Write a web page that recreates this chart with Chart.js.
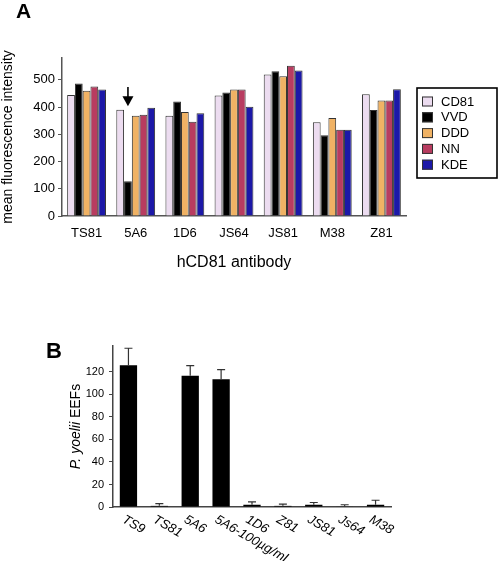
<!DOCTYPE html>
<html>
<head>
<meta charset="utf-8">
<script src="https://cdn.jsdelivr.net/npm/chart.js@4.4.1/dist/chart.umd.min.js"></script>
<style>
  body { margin: 0; background: #fff; }
  canvas { display: block; }
</style>
</head>
<body>
<canvas id="graficoA" width="498" height="280"></canvas>
<canvas id="graficoB" width="498" height="281"></canvas>
<script>
// painel A - intensidade de fluorescência por anticorpo
const anticorposA = ['TS81', '5A6', '1D6', 'JS64', 'JS81', 'M38', 'Z81'];
const serieCD81 = [444, 390, 368, 442, 519, 344, 447];
const serieVVD = [486, 128, 420, 453, 531, 296, 389];
const serieDDD = [460, 368, 382, 464, 513, 360, 424];
const serieNN = [475, 372, 346, 464, 552, 317, 424];
const serieKDE = [464, 397, 377, 401, 534, 317, 465];
const nomesSeries = ['CD81', 'VVD', 'DDD', 'NN', 'KDE'];
const coresSeries = ['#ecdcf0', '#000000', '#f0b264', '#b83c60', '#1c18a8'];
const ticksA = [0, 100, 200, 300, 400, 500];
const setaA = [474, 403]; // seta sobre 5A6 / VVD (valores do eixo y)

// painel B - EEFs de P. yoelii
const anticorposB = ['TS9', 'TS81', '5A6', '5A6-100µg/ml', '1D6', 'Z81', 'JS81', 'Js64', 'M38'];
const eefs = [126, 1, 116.5, 113.5, 2, 1, 2, 0.5, 2];
const erros = [15, 2, 9, 8.5, 2.5, 1.5, 2, 1.5, 4];
const ticksB = [0, 20, 40, 60, 80, 100, 120];

const FONTE = "'Liberation Sans', Arial, sans-serif";
Chart.defaults.font.family = FONTE;
Chart.defaults.color = '#000';

const todasSeries = [serieCD81, serieVVD, serieDDD, serieNN, serieKDE];

const extrasA = {
  id: 'extrasA',
  afterDraw(chart) {
    const c = chart.ctx;
    const y = chart.scales.y;
    c.save();
    // letra do painel
    c.fillStyle = '#000';
    c.font = 'bold 21px ' + FONTE;
    c.textBaseline = 'alphabetic';
    c.fillText('A', 16, 18);

    // seta
    const barra = chart.getDatasetMeta(1).data[1];
    const yTopo = y.getPixelForValue(setaA[0]);
    const yPonta = y.getPixelForValue(setaA[1]);
    c.strokeStyle = '#000';
    c.lineWidth = 1.6;
    c.beginPath();
    c.moveTo(barra.x, yTopo);
    c.lineTo(barra.x, yPonta - 8);
    c.stroke();
    c.beginPath();
    c.moveTo(barra.x - 5.5, yPonta - 10);
    c.lineTo(barra.x + 5.5, yPonta - 10);
    c.lineTo(barra.x, yPonta);
    c.closePath();
    c.fill();

    // legenda com caixa
    c.lineWidth = 1.6;
    c.strokeRect(417, 88, 80, 90);
    chart.data.datasets.forEach((ds, i) => {
      const yy = 101.5 + i * 15.8;
      c.fillStyle = ds.backgroundColor;
      c.fillRect(422, yy - 5, 11, 10);
      c.strokeStyle = '#333';
      c.lineWidth = 1;
      c.strokeRect(422.5, yy - 4.5, 10, 9);
      c.fillStyle = '#000';
      c.font = '13px ' + FONTE;
      c.textBaseline = 'middle';
      c.fillText(ds.label, 441, yy + 0.5);
    });
    c.restore();
  }
};

new Chart(document.getElementById('graficoA'), {
  type: 'bar',
  data: {
    labels: anticorposA,
    datasets: nomesSeries.map((nome, i) => ({
      label: nome,
      data: todasSeries[i],
      backgroundColor: coresSeries[i],
      borderColor: '#333',
      borderWidth: 1,
      barPercentage: 1,
      categoryPercentage: 0.79
    }))
  },
  options: {
    responsive: false,
    animation: false,
    layout: { padding: { top: 58, right: 92, left: 0, bottom: 0 } },
    plugins: { legend: { display: false }, tooltip: { enabled: false } },
    scales: {
      x: {
        grid: { display: false, drawTicks: false },
        border: { color: '#555', width: 1.5 },
        ticks: { font: { size: 13 }, padding: 10 },
        title: { display: true, text: 'hCD81 antibody', font: { size: 16 }, padding: { top: 0, bottom: 8 } },
        afterFit(s) { s.height = 64; }
      },
      y: {
        min: 0,
        max: 580,
        afterBuildTicks(s) { s.ticks = ticksA.map(v => ({ value: v })); },
        grid: { drawOnChartArea: false, tickLength: 4, color: '#555' },
        border: { color: '#555', width: 1.5 },
        ticks: { font: { size: 13 }, padding: 3 },
        title: { display: true, text: 'mean fluorescence intensity', font: { size: 14 }, padding: 0 },
        afterFit(s) { s.width = 62; }
      }
    }
  },
  plugins: [extrasA]
});

const extrasB = {
  id: 'extrasB',
  afterDatasetsDraw(chart) {
    const c = chart.ctx;
    const y = chart.scales.y;
    const meta = chart.getDatasetMeta(0);
    c.save();
    c.strokeStyle = '#333';
    c.lineWidth = 1.2;
    meta.data.forEach((barra, i) => {
      const yErro = y.getPixelForValue(eefs[i] + erros[i]);
      c.beginPath();
      c.moveTo(barra.x, barra.y);
      c.lineTo(barra.x, yErro);
      c.moveTo(barra.x - 4, yErro);
      c.lineTo(barra.x + 4, yErro);
      c.stroke();
    });
    c.restore();
  },
  afterDraw(chart) {
    const c = chart.ctx;
    const x = chart.scales.x;
    const area = chart.chartArea;
    c.save();
    c.fillStyle = '#000';
    c.font = 'bold 22px ' + FONTE;
    c.fillText('B', 46, 78);

    // rótulos inclinados
    c.font = 'italic 13px ' + FONTE;
    c.textAlign = 'left';
    c.textBaseline = 'top';
    anticorposB.forEach((rotulo, i) => {
      c.save();
      c.translate(x.getPixelForTick(i) - 2, area.bottom + 6);
      c.rotate(30 * Math.PI / 180);
      c.fillText(rotulo, 0, 0);
      c.restore();
    });

    // título do eixo y com itálico
    c.save();
    c.translate(76, (area.top + area.bottom) / 2);
    c.rotate(-Math.PI / 2);
    c.textBaseline = 'middle';
    const parte1 = 'P. yoelii';
    const parte2 = ' EEFs';
    c.font = 'italic 14px ' + FONTE;
    const w1 = c.measureText(parte1).width;
    c.font = '14px ' + FONTE;
    const w2 = c.measureText(parte2).width;
    const inicio = -(w1 + w2) / 2;
    c.textAlign = 'left';
    c.font = 'italic 14px ' + FONTE;
    c.fillText(parte1, inicio, 0);
    c.font = '14px ' + FONTE;
    c.fillText(parte2, inicio + w1, 0);
    c.restore();
    c.restore();
  }
};

new Chart(document.getElementById('graficoB'), {
  type: 'bar',
  data: {
    labels: anticorposB,
    datasets: [{
      data: eefs,
      backgroundColor: '#000',
      barPercentage: 0.56,
      categoryPercentage: 1
    }]
  },
  options: {
    responsive: false,
    animation: false,
    layout: { padding: { top: 66, right: 107, left: 0, bottom: 0 } },
    plugins: { legend: { display: false }, tooltip: { enabled: false } },
    scales: {
      x: {
        grid: { display: false },
        border: { color: '#444', width: 1.5 },
        ticks: { display: false },
        afterFit(s) { s.height = 54; }
      },
      y: {
        min: 0,
        max: 143,
        afterBuildTicks(s) { s.ticks = ticksB.map(v => ({ value: v })); },
        grid: { drawOnChartArea: false, tickLength: 4, color: '#444' },
        border: { color: '#444', width: 1.5 },
        ticks: { font: { size: 11 }, padding: 5 },
        afterFit(s) { s.width = 113; }
      }
    }
  },
  plugins: [extrasB]
});
</script>
</body>
</html>
